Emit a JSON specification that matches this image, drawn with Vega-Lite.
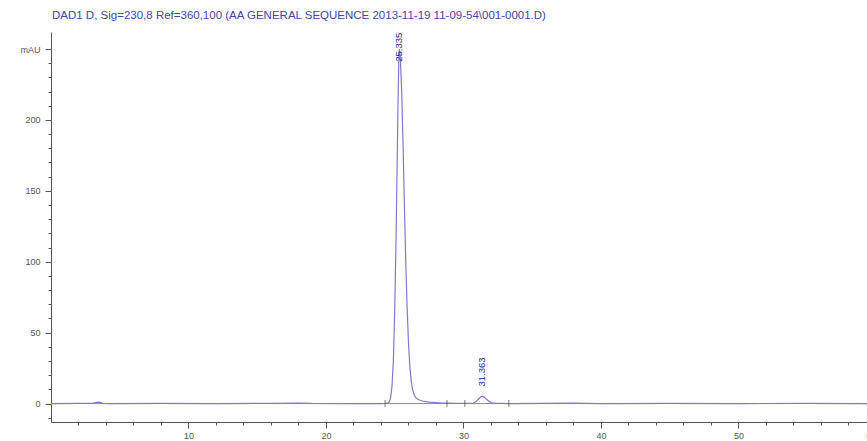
{
  "$schema": "https://vega.github.io/schema/vega-lite/v6.json",
  "width": 816,
  "height": 390,
  "autosize": "none",
  "padding": {"left": 51, "top": 32, "right": 0, "bottom": 19},
  "background": "white",
  "config": {"view": {"stroke": null}, "font": "Liberation Sans"},
  "title": {"text": "DAD1 D, Sig=230,8 Ref=360,100 (AA GENERAL SEQUENCE 2013-11-19 11-09-54\\001-0001.D)", "anchor": "start", "frame": "group", "fontSize": 11.5, "fontWeight": "normal", "color": "#4444aa", "offset": 11, "dx": 1},
  "datasets": {
    "signal": [
      {"t": 0, "mAU": 0}, {"t": 2, "mAU": 0.1}, {"t": 3.0, "mAU": 0.1}, {"t": 3.3, "mAU": 0.8}, {"t": 3.5, "mAU": 1.0}, {"t": 3.8, "mAU": 0.2}, {"t": 4.2, "mAU": 0},
      {"t": 8, "mAU": 0.1}, {"t": 12, "mAU": 0}, {"t": 16, "mAU": 0.2}, {"t": 18, "mAU": 0.4}, {"t": 19, "mAU": 0.1}, {"t": 22, "mAU": 0}, {"t": 24, "mAU": 0}, {"t": 24.3, "mAU": 0.1},
      {"t": 24.5, "mAU": 0.3}, {"t": 24.6, "mAU": 1}, {"t": 24.7, "mAU": 4}, {"t": 24.8, "mAU": 12}, {"t": 24.9, "mAU": 30}, {"t": 25.0, "mAU": 66}, {"t": 25.1, "mAU": 118},
      {"t": 25.2, "mAU": 185}, {"t": 25.25, "mAU": 218}, {"t": 25.3, "mAU": 243}, {"t": 25.335, "mAU": 250}, {"t": 25.4, "mAU": 245}, {"t": 25.5, "mAU": 222},
      {"t": 25.6, "mAU": 185}, {"t": 25.7, "mAU": 142}, {"t": 25.8, "mAU": 101}, {"t": 25.9, "mAU": 68}, {"t": 26.0, "mAU": 43}, {"t": 26.1, "mAU": 26},
      {"t": 26.2, "mAU": 16}, {"t": 26.3, "mAU": 10}, {"t": 26.4, "mAU": 6.5}, {"t": 26.5, "mAU": 4.5}, {"t": 26.7, "mAU": 2.8}, {"t": 27.0, "mAU": 1.8},
      {"t": 27.5, "mAU": 1.0}, {"t": 28.0, "mAU": 0.6}, {"t": 28.5, "mAU": 0.3}, {"t": 28.8, "mAU": 0.3}, {"t": 29.5, "mAU": 0.1}, {"t": 30.1, "mAU": 0.2},
      {"t": 30.5, "mAU": 0.1}, {"t": 30.7, "mAU": 0.2}, {"t": 30.9, "mAU": 1.2}, {"t": 31.1, "mAU": 3.2}, {"t": 31.25, "mAU": 4.6}, {"t": 31.363, "mAU": 5.2},
      {"t": 31.5, "mAU": 4.6}, {"t": 31.7, "mAU": 2.8}, {"t": 31.9, "mAU": 1.3}, {"t": 32.1, "mAU": 0.5}, {"t": 32.4, "mAU": 0.1}, {"t": 32.8, "mAU": 0.2},
      {"t": 33.3, "mAU": 0}, {"t": 38, "mAU": 0.3}, {"t": 40, "mAU": 0}, {"t": 45, "mAU": 0.2}, {"t": 50, "mAU": 0}, {"t": 55, "mAU": 0.1}, {"t": 59.35, "mAU": 0}
    ],
    "baseline": [{"t": 0, "mAU": 0}, {"t": 59.35, "mAU": 0}],
    "peaks": [
      {"t": 25.335, "mAU": 241, "label": "25.335"},
      {"t": 31.363, "mAU": 12, "label": "31.363"}
    ],
    "events": [{"t": 24.3, "mAU": 0}, {"t": 28.8, "mAU": 0}, {"t": 30.1, "mAU": 0}, {"t": 33.3, "mAU": 0}],
    "unit": [{"t": 59.3, "mAU": -13, "label": "min"}]
  },
  "encoding": {
    "x": {"field": "t", "type": "quantitative", "scale": {"domain": [0, 59.35], "nice": false, "zero": false},
      "axis": {"title": null, "values": [2,4,6,8,10,12,14,16,18,20,22,24,26,28,30,32,34,36,38,40,42,44,46,48,50,52,54,56,58],
        "labelExpr": "datum.value % 10 === 0 ? datum.label : ''", "labelOverlap": false,
        "tickSize": {"condition": {"test": "datum.value % 10 === 0", "value": 6}, "value": 3},
        "domainColor": "#555555", "tickColor": "#555555", "labelColor": "#555555", "labelFontSize": 9, "labelPadding": 3, "grid": false}},
    "y": {"field": "mAU", "type": "quantitative", "scale": {"domain": [-13, 262], "nice": false, "zero": false},
      "axis": {"title": null, "values": [-10,0,10,20,30,40,50,60,70,80,90,100,110,120,130,140,150,160,170,180,190,200,210,220,230,240,250],
        "labelExpr": "datum.value === 250 ? 'mAU' : (datum.value % 50 === 0 ? datum.label : '')", "labelOverlap": false,
        "tickSize": {"condition": {"test": "datum.value % 50 === 0", "value": 6}, "value": 3},
        "domainColor": "#555555", "tickColor": "#555555", "labelColor": "#555555", "labelFontSize": 9, "labelPadding": 5, "grid": false}}
  },
  "layer": [
    {
      "data": {"name": "baseline"},
      "mark": {"type": "line", "color": "#8c8c8c", "strokeWidth": 1}
    },
    {
      "data": {"name": "signal"},
      "mark": {"type": "line", "color": "#8478cc", "strokeWidth": 1.2, "clip": true}
    },
    {
      "data": {"name": "events"},
      "mark": {"type": "tick", "orient": "vertical", "color": "#444444", "size": 7, "thickness": 1}
    },
    {
      "data": {"name": "peaks"},
      "mark": {"type": "text", "angle": 270, "align": "left", "baseline": "middle", "fontSize": 9.5, "color": "#2a2a8c"},
      "encoding": {"text": {"field": "label"}}
    },
    {
      "data": {"name": "unit"},
      "mark": {"type": "text", "align": "left", "baseline": "top", "dy": 9, "fontSize": 9, "color": "#555555"},
      "encoding": {"text": {"field": "label"}}
    }
  ]
}
